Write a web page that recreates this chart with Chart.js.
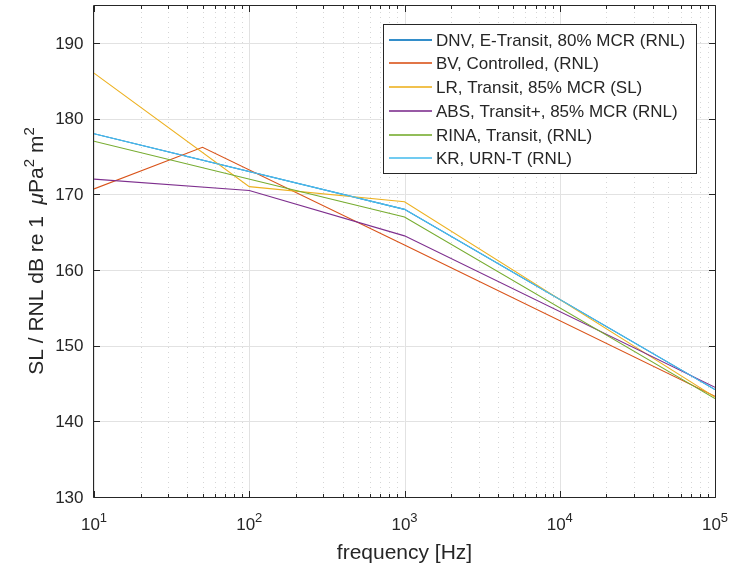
<!DOCTYPE html>
<html>
<head>
<meta charset="utf-8">
<script src="https://cdn.jsdelivr.net/npm/chart.js@4/dist/chart.umd.min.js"></script>
<style>
html,body{margin:0;padding:0;background:#fff;}
#wrap{width:740px;height:567px;position:relative;}
</style>
</head>
<body>
<div id="wrap"><canvas id="c"></canvas></div>
<script>
// ---- data ----
const seriesNames = [
  'DNV, E-Transit, 80% MCR (RNL)',
  'BV, Controlled, (RNL)',
  'LR, Transit, 85% MCR (SL)',
  'ABS, Transit+, 85% MCR (RNL)',
  'RINA, Transit, (RNL)',
  'KR, URN-T (RNL)'
];
const dnvFreq  = [10, 1000, 100000];
const dnvLevel = [178, 168, 144.2];
const bvFreq   = [10, 50, 1000, 100000];
const bvLevel  = [170.7, 176.2, 163.3, 143.3];
const lrFreq   = [10, 100, 1000, 100000];
const lrLevel  = [186, 171, 169, 143.2];
const absFreq  = [10, 100, 1000, 100000];
const absLevel = [172, 170.5, 164.5, 144.5];
const rinaFreq = [10, 1000, 100000];
const rinaLevel= [177, 167, 143];
const krFreq   = [10, 1000, 100000];
const krLevel  = [178, 168, 144.2];

const xTickValues = [10, 100, 1000, 10000, 100000];
const xTickBase = '10';
const xTickExponents = ['1', '2', '3', '4', '5'];
const yTickValues = [130, 140, 150, 160, 170, 180, 190];
const yTickLabels = ['130', '140', '150', '160', '170', '180', '190'];
const xAxisTitle = 'frequency [Hz]';

// ---- styles ----
const seriesColors = ['#0072BD', '#D95319', '#EDB120', '#7E2F8E', '#77AC30', '#4DBEEE'];
const freqs = [dnvFreq, bvFreq, lrFreq, absFreq, rinaFreq, krFreq];
const levels = [dnvLevel, bvLevel, lrLevel, absLevel, rinaLevel, krLevel];

const FONT = '"Liberation Sans", Arial, Helvetica, sans-serif';
const AX = '#262626';

const datasets = seriesNames.map((name, i) => ({
  label: name,
  data: freqs[i].map((f, k) => ({x: f, y: levels[i][k]})),
  borderColor: seriesColors[i],
  backgroundColor: seriesColors[i],
  borderWidth: 1.1,
  pointRadius: 0,
  fill: false,
  tension: 0,
  order: seriesNames.length - i
}));

function px(v){ return Math.round(v) + 0.5; }

const matlabAxes = {
  id: 'matlabAxes',
  beforeDatasetsDraw(chart) {
    const ctx = chart.ctx, ca = chart.chartArea;
    const xs = chart.scales.x, ys = chart.scales.y;
    ctx.save();
    ctx.lineWidth = 1;
    // minor x grid (dotted)
    ctx.strokeStyle = '#d6d6d6';
    ctx.setLineDash([1, 4]);
    for (let d = 0; d < xTickValues.length - 1; d++) {
      for (let m = 2; m <= 9; m++) {
        const x = px(xs.getPixelForValue(xTickValues[d] * m));
        ctx.beginPath(); ctx.moveTo(x, ca.top + 2); ctx.lineTo(x, ca.bottom); ctx.stroke();
      }
    }
    ctx.setLineDash([]);
    // major grid
    ctx.strokeStyle = '#e2e2e2';
    xTickValues.forEach(v => {
      const x = px(xs.getPixelForValue(v));
      ctx.beginPath(); ctx.moveTo(x, ca.top); ctx.lineTo(x, ca.bottom); ctx.stroke();
    });
    yTickValues.forEach(v => {
      const y = px(ys.getPixelForValue(v));
      ctx.beginPath(); ctx.moveTo(ca.left, y); ctx.lineTo(ca.right, y); ctx.stroke();
    });
    ctx.restore();
  },
  afterDatasetsDraw(chart) {
    const ctx = chart.ctx, ca = chart.chartArea;
    const xs = chart.scales.x, ys = chart.scales.y;
    const L = px(ca.left) - 1, R = px(ca.right), T = px(ca.top), B = px(ca.bottom);
    ctx.save();
    ctx.strokeStyle = AX; ctx.lineWidth = 1;
    ctx.beginPath();
    ctx.moveTo(L, T); ctx.lineTo(R, T); ctx.lineTo(R, B); ctx.lineTo(L, B); ctx.closePath();
    ctx.stroke();
    // x ticks (inside, bottom and top)
    const major = 6.5, minor = 3.5;
    ctx.beginPath();
    xTickValues.forEach(v => {
      const x = px(xs.getPixelForValue(v));
      ctx.moveTo(x, B); ctx.lineTo(x, B - major);
      ctx.moveTo(x, T); ctx.lineTo(x, T + major);
    });
    for (let d = 0; d < xTickValues.length - 1; d++) {
      for (let m = 2; m <= 9; m++) {
        const x = px(xs.getPixelForValue(xTickValues[d] * m));
        ctx.moveTo(x, B); ctx.lineTo(x, B - minor);
        ctx.moveTo(x, T); ctx.lineTo(x, T + minor);
      }
    }
    yTickValues.forEach(v => {
      const y = px(ys.getPixelForValue(v));
      ctx.moveTo(L, y); ctx.lineTo(L + major, y);
      ctx.moveTo(R, y); ctx.lineTo(R - major, y);
    });
    ctx.stroke();

    // y tick labels
    ctx.fillStyle = AX;
    ctx.font = '17px ' + FONT;
    ctx.textAlign = 'right'; ctx.textBaseline = 'middle';
    yTickValues.forEach((v, i) => {
      ctx.fillText(yTickLabels[i], 83.5, ys.getPixelForValue(v) + 1);
    });

    // x tick labels with superscripts
    ctx.textAlign = 'left'; ctx.textBaseline = 'alphabetic';
    xTickValues.forEach((v, i) => {
      const x = xs.getPixelForValue(v);
      ctx.font = '17px ' + FONT;
      const wb = ctx.measureText(xTickBase).width;
      ctx.font = '13px ' + FONT;
      const ws = ctx.measureText(xTickExponents[i]).width;
      const x0 = x - (wb + ws) / 2;
      ctx.font = '17px ' + FONT;
      ctx.fillText(xTickBase, x0, 530);
      ctx.font = '13px ' + FONT;
      ctx.fillText(xTickExponents[i], x0 + wb, 521.5);
    });

    // x axis title
    ctx.font = '21px ' + FONT;
    ctx.textAlign = 'center';
    ctx.fillText(xAxisTitle, (ca.left + ca.right) / 2, 559);

    // y axis title (rotated, with italic mu and superscripts)
    const pieces = [
      {t: 'SL / RNL dB re 1  ', f: '21px ' + FONT, dy: 0},
      {t: '\u03bc', f: 'italic 21px ' + FONT, dy: 0},
      {t: 'Pa', f: '21px ' + FONT, dy: 0},
      {t: '2', f: '15px ' + FONT, dy: -9},
      {t: ' m', f: '21px ' + FONT, dy: 0},
      {t: '2', f: '15px ' + FONT, dy: -9}
    ];
    let total = 0;
    pieces.forEach(p => { ctx.font = p.f; p.w = ctx.measureText(p.t).width; total += p.w; });
    ctx.save();
    ctx.translate(43, 251);
    ctx.rotate(-Math.PI / 2);
    ctx.textAlign = 'left';
    let u = -total / 2;
    pieces.forEach(p => { ctx.font = p.f; ctx.fillText(p.t, u, p.dy); u += p.w; });
    ctx.restore();

    // legend
    const lx = 383.5, ly = 24.5, lw = 313, lh = 149;
    ctx.fillStyle = '#ffffff';
    ctx.fillRect(lx, ly, lw, lh);
    ctx.strokeStyle = AX; ctx.lineWidth = 1;
    ctx.strokeRect(lx, ly, lw, lh);
    ctx.font = '17px ' + FONT;
    ctx.textAlign = 'left'; ctx.textBaseline = 'middle';
    seriesNames.forEach((name, i) => {
      const y = Math.round(39.5 + i * 23.75);
      ctx.save();
      ctx.globalAlpha = 0.8;
      ctx.strokeStyle = seriesColors[i]; ctx.lineWidth = 2;
      ctx.beginPath(); ctx.moveTo(389, y); ctx.lineTo(432, y); ctx.stroke();
      ctx.restore();
      ctx.fillStyle = AX;
      ctx.fillText(name, 436, y + 1);
    });
    ctx.restore();
  }
};

new Chart(document.getElementById('c'), {
  type: 'line',
  data: { datasets },
  options: {
    responsive: true,
    maintainAspectRatio: false,
    animation: false,
    layout: { padding: { left: 94, right: 25, top: 5, bottom: 70 } },
    plugins: { legend: { display: false }, tooltip: { enabled: false } },
    scales: {
      x: { type: 'logarithmic', min: 10, max: 100000, display: false },
      y: { type: 'linear', min: 130, max: 195, display: false }
    }
  },
  plugins: [matlabAxes]
});
</script>
</body>
</html>
